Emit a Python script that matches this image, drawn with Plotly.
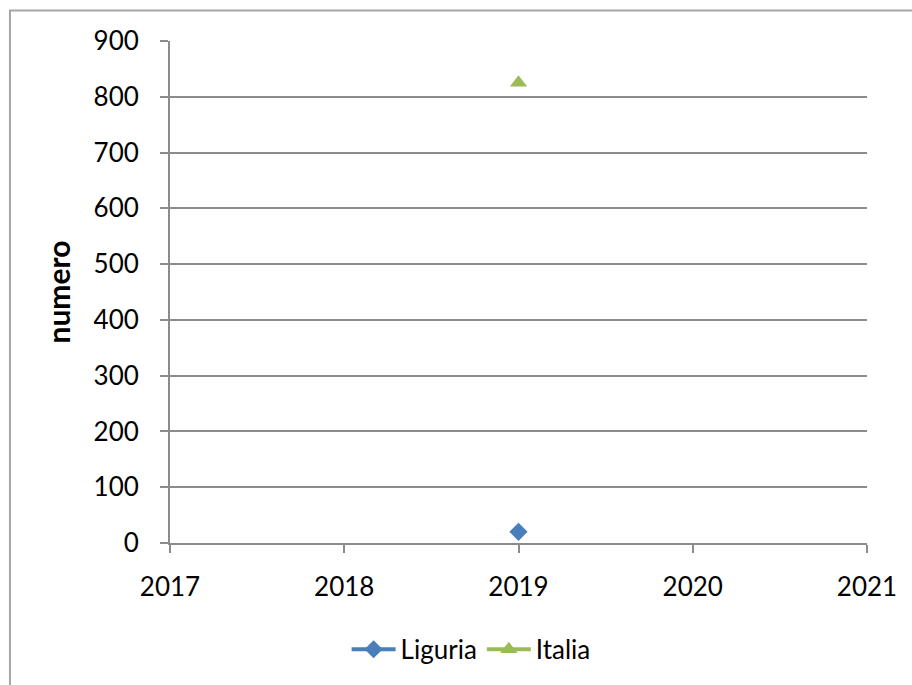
import plotly.graph_objects as go

# Data
years = [2019]
liguria = [20]
italia = [825]
x_ticks = [2017, 2018, 2019, 2020, 2021]
y_ticks = [0, 100, 200, 300, 400, 500, 600, 700, 800, 900]

FONT = "Lato"
GRID = "#8c8c8c"
TEXT = "#000000"

fig = go.Figure()
fig.add_trace(go.Scatter(
    x=years, y=liguria, name="Liguria", mode="lines+markers",
    line=dict(color="#4a7ebb", width=4),
    marker=dict(symbol="diamond", size=14, color="#4a7ebb"),
))
fig.add_trace(go.Scatter(
    x=years, y=italia, name="Italia", mode="lines+markers",
    line=dict(color="#9bbb59", width=4),
    marker=dict(symbol="triangle-up", size=15, color="#9bbb59"),
))

fig.update_layout(
    width=912, height=685,
    margin=dict(l=170, r=45, t=41, b=136),
    paper_bgcolor="white", plot_bgcolor="white",
    font=dict(family=FONT, size=26, color=TEXT),
    showlegend=True,
    legend=dict(
        orientation="h", x=0.432, xanchor="center", y=-0.165, yanchor="top",
        font=dict(family=FONT, size=26, color=TEXT),
        itemwidth=44, tracegroupgap=0,
    ),
    xaxis=dict(
        range=[2017, 2021], tickmode="array", tickvals=x_ticks,
        ticktext=[str(v) for v in x_ticks],
        showgrid=False, zeroline=False,
        showline=True, linecolor=GRID, linewidth=2,
        ticks="outside", ticklen=8, tickcolor=GRID, tickwidth=2,
        ticklabelstandoff=12,
        tickfont=dict(family=FONT, size=26, color=TEXT),
    ),
    yaxis=dict(
        range=[0, 900], tickmode="array", tickvals=y_ticks,
        showgrid=True, gridcolor=GRID, gridwidth=2, zeroline=False,
        showline=True, linecolor=GRID, linewidth=2,
        ticks="outside", ticklen=8, tickcolor=GRID, tickwidth=2,
        ticklabelstandoff=16,
        tickfont=dict(family=FONT, size=26, color=TEXT),
        title=dict(text="<b>numero</b>", standoff=14,
                   font=dict(family=FONT, size=30, color=TEXT)),
    ),
)

# Chart frame
fig.add_shape(type="rect", xref="paper", yref="paper",
              x0=-0.2296, x1=1.2, y0=-0.4, y1=1.061,
              line=dict(color="#a6a6a6", width=2), fillcolor="rgba(0,0,0,0)",
              layer="below")

fig.write_html("out.html")
